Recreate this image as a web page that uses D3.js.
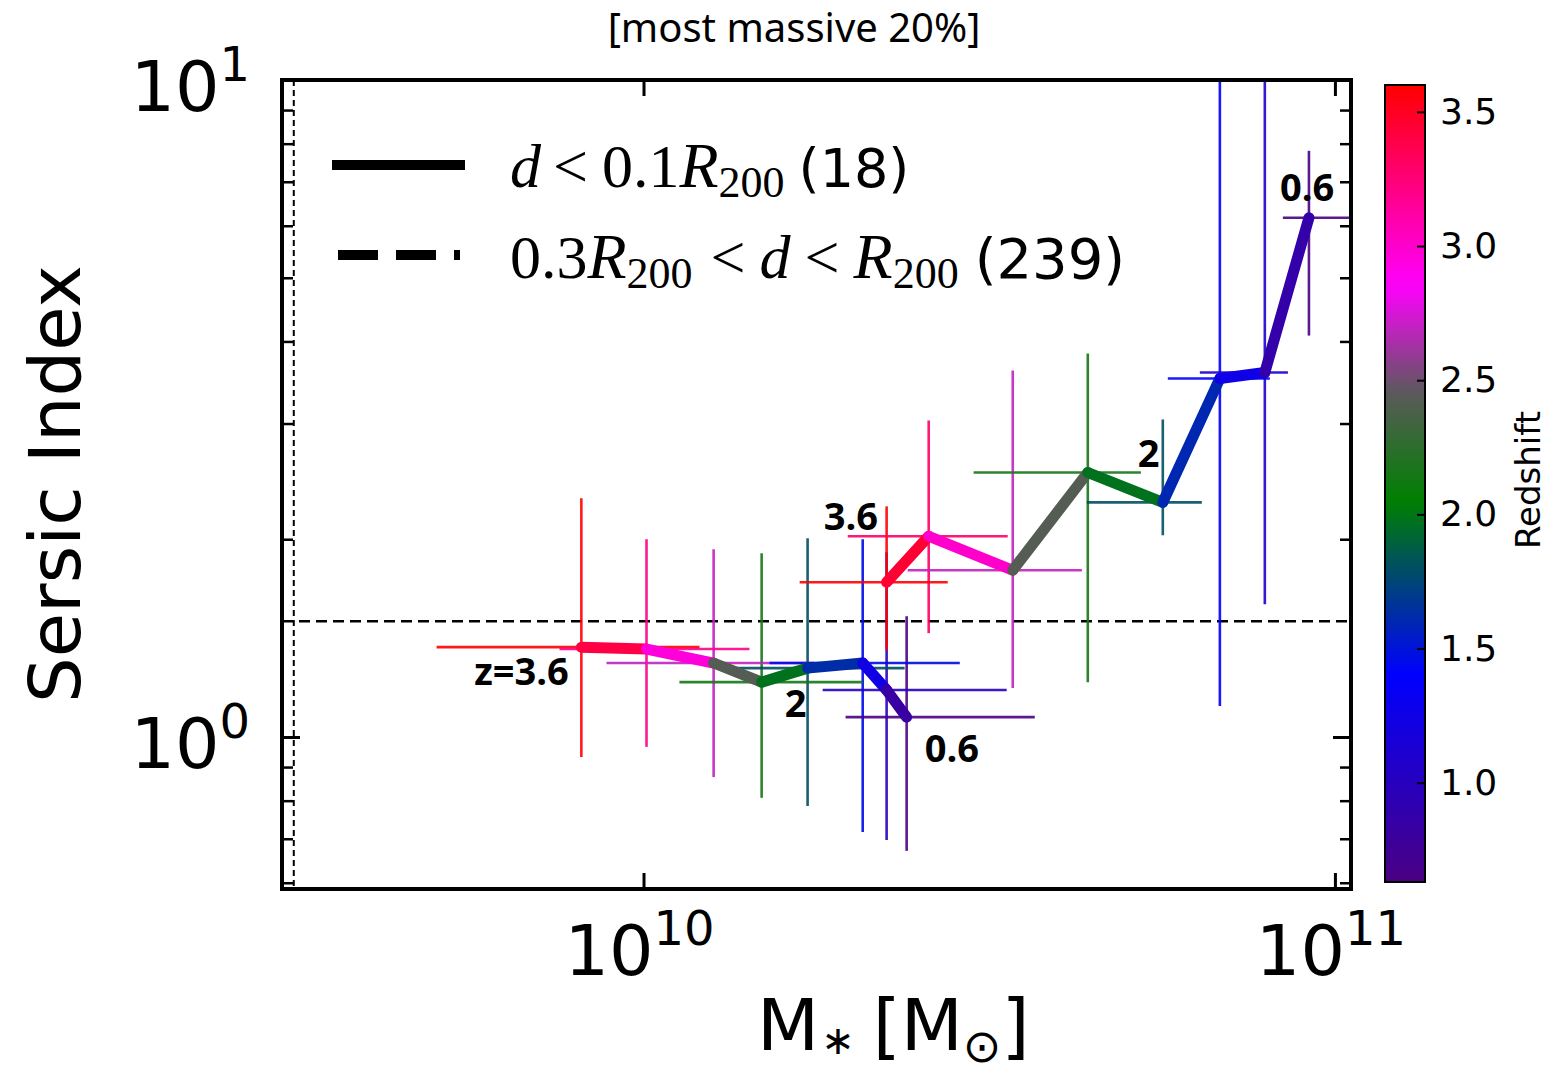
<!DOCTYPE html>
<html><head><meta charset="utf-8">
<script src="https://cdn.jsdelivr.net/npm/d3@7"></script>
<style>body{margin:0;background:#fff}</style>
</head><body>
<svg id="c" width="1547" height="1075" xmlns="http://www.w3.org/2000/svg"></svg>
<script>
// ---------------- DATA ----------------
// Track A (lower-mass track), points from z=3.6 to z=0.6
const massA   = [8.13e9, 1.010e10, 1.263e10, 1.482e10, 1.727e10, 2.075e10, 2.247e10, 2.402e10];
const nA      = [1.370, 1.361, 1.296, 1.212, 1.273, 1.296, 1.179, 1.072];
const zA      = [3.6, 3.2, 2.7, 2.15, 1.8, 1.45, 1.0, 0.65];
const massLoA = [5.02e9, 7.56e9, 8.84e9, 1.127e10, 1.310e10, 1.521e10, 1.816e10, 1.960e10];
const massHiA = [1.205e10, 1.423e10, 1.768e10, 2.075e10, 2.386e10, 2.867e10, 3.352e10, 3.680e10];
const nLoA    = [0.932, 0.966, 0.869, 0.808, 0.785, 0.717, 0.697, 0.671];
const nHiA    = [2.308, 2.000, 1.931, 1.904, 2.006, 2.000, 1.910, 1.527];

// Track B (higher-mass track)
const massB   = [2.247e10, 2.585e10, 3.420e10, 4.391e10, 5.637e10, 6.817e10, 7.918e10, 9.171e10];
const nB      = [1.720, 2.021, 1.794, 2.527, 2.276, 3.513, 3.587, 6.171];
const zB      = [3.6, 3.3, 2.7, 2.15, 1.8, 1.4, 1.1, 0.65];
const massLoB = [1.682e10, 1.974e10, 2.410e10, 3.002e10, 4.377e10, 5.732e10, 6.377e10, 8.409e10];
const massHiB = [2.754e10, 3.363e10, 4.305e10, 5.240e10, 6.420e10, 8.051e10, 8.551e10, 1.087e11];
const nLoB    = [1.356, 1.439, 1.187, 1.212, 2.028, 1.115, 1.593, 4.083];
const nHiB    = [2.244, 3.032, 3.613, 3.834, 3.043, 12.0, 12.0, 7.802];

// Reference lines (dashed)
const refN = 1.5;
const refMass = 3.12e9;

// Redshift annotations
const annText = ["z=3.6", "2", "0.6", "3.6", "2", "0.6"];
const annMass = [5.69e9, 1.600e10, 2.551e10, 1.822e10, 5.187e10, 8.326e10];
const annN    = [1.199, 1.072, 0.916, 2.064, 2.572, 6.549];

// Ticks
const xMajorTicks = [1e10, 1e11];
const xTickExp = ["10", "11"];
const yMajorTicks = [1, 10];
const yTickExp = ["0", "1"];
const yMinorTicks = [0.6, 0.7, 0.8, 0.9, 2, 3, 4, 5, 6, 7, 8, 9];
const zTicks = [1.0, 1.5, 2.0, 2.5, 3.0, 3.5];

// Colormap
const zStops  = [0.63, 1.4, 2.05, 2.45, 2.85, 3.6];
const zColors = ["#4b0082", "#0000ff", "#008000", "#5a5a5a", "#ff00ff", "#ff0000"];

// ---------------- LAYOUT ----------------
const L = 282, R = 1351, T = 80, B = 889;
const svg = d3.select("#c");
const x = d3.scaleLog().domain([3.0e9, 1.055e11]).range([L, R]);
const y = d3.scaleLog().domain([0.587, 10]).range([B, T]);
const cmap = d3.scaleLinear().domain(zStops).range(zColors).interpolate(d3.interpolateRgb).clamp(true);
const zMin = 0.63, zMax = 3.6;
const cbX = 1385, cbW = 40, cbT = 85, cbB = 882;
const zs = d3.scaleLinear().domain([zMin, zMax]).range([cbB, cbT]);

const defs = svg.append("defs");
defs.append("clipPath").attr("id", "clip").append("rect")
  .attr("x", L).attr("y", T).attr("width", R - L).attr("height", B - T);

// Title
svg.append("text").attr("x", 794).attr("y", 42).attr("text-anchor", "middle")
  .attr("font-family", "Noto Sans, DejaVu Sans, sans-serif").attr("font-size", 40)
  .text("[most massive 20%]");

const plot = svg.append("g").attr("clip-path", "url(#clip)");

// Reference dashed lines
plot.append("line").attr("x1", L).attr("x2", R).attr("y1", y(refN)).attr("y2", y(refN))
  .attr("stroke", "#000").attr("stroke-width", 2.5).attr("stroke-dasharray", "11,6");
plot.append("line").attr("x1", x(refMass)).attr("x2", x(refMass)).attr("y1", T).attr("y2", B)
  .attr("stroke", "#000").attr("stroke-width", 2).attr("stroke-dasharray", "6,4");

function track(mass, n, z, mLo, mHi, nLo, nHi) {
  return mass.map((m, i) => ({m, n: n[i], z: z[i], mLo: mLo[i], mHi: mHi[i], nLo: nLo[i], nHi: nHi[i]}));
}
const tracks = [
  track(massA, nA, zA, massLoA, massHiA, nLoA, nHiA),
  track(massB, nB, zB, massLoB, massHiB, nLoB, nHiB)
];

// Error bars
tracks.forEach(tr => {
  const g = plot.append("g");
  g.selectAll("line.v").data(tr).enter().append("line")
    .attr("x1", d => x(d.m)).attr("x2", d => x(d.m))
    .attr("y1", d => y(d.nLo)).attr("y2", d => y(d.nHi))
    .attr("stroke", d => cmap(d.z)).attr("stroke-width", 2.6).attr("stroke-opacity", 0.9);
  g.selectAll("line.h").data(tr).enter().append("line")
    .attr("x1", d => x(d.mLo)).attr("x2", d => x(d.mHi))
    .attr("y1", d => y(d.n)).attr("y2", d => y(d.n))
    .attr("stroke", d => cmap(d.z)).attr("stroke-width", 2.6).attr("stroke-opacity", 0.9);
});

// Thick colored track lines
tracks.forEach(tr => {
  const segs = d3.pairs(tr);
  plot.append("g").selectAll("line").data(segs).enter().append("line")
    .attr("x1", d => x(d[0].m)).attr("y1", d => y(d[0].n))
    .attr("x2", d => x(d[1].m)).attr("y2", d => y(d[1].n))
    .attr("stroke", d => cmap((d[0].z + d[1].z) / 2))
    .attr("stroke-width", 11).attr("stroke-linecap", "round");
});

// Annotations
svg.append("g").selectAll("text").data(annText).enter().append("text")
  .attr("x", (d, i) => x(annMass[i])).attr("y", (d, i) => y(annN[i]))
  .attr("font-family", "Open Sans, Noto Sans, sans-serif").attr("font-weight", 700)
  .attr("font-size", 38).attr("fill", "#000").text(d => d);

// Axes ticks
function clean(g) { g.select(".domain").remove(); g.selectAll("text").remove(); g.selectAll("line").attr("stroke", "#000"); }
svg.append("g").attr("transform", `translate(${L},0)`)
  .call(d3.axisLeft(y).tickValues(yMajorTicks).tickSizeInner(-18).tickSizeOuter(0)).call(clean)
  .selectAll("line").attr("stroke-width", 3);
svg.append("g").attr("transform", `translate(${L},0)`)
  .call(d3.axisLeft(y).tickValues(yMinorTicks).tickSizeInner(-11).tickSizeOuter(0)).call(clean)
  .selectAll("line").attr("stroke-width", 2.5);
svg.append("g").attr("transform", `translate(${R},0)`)
  .call(d3.axisRight(y).tickValues(yMajorTicks).tickSizeInner(-18).tickSizeOuter(0)).call(clean)
  .selectAll("line").attr("stroke-width", 3);
svg.append("g").attr("transform", `translate(${R},0)`)
  .call(d3.axisRight(y).tickValues(yMinorTicks).tickSizeInner(-11).tickSizeOuter(0)).call(clean)
  .selectAll("line").attr("stroke-width", 2.5);
svg.append("g").attr("transform", `translate(0,${B})`)
  .call(d3.axisBottom(x).tickValues(xMajorTicks).tickSizeInner(-16).tickSizeOuter(0)).call(clean)
  .selectAll("line").attr("stroke-width", 3);
svg.append("g").attr("transform", `translate(0,${T})`)
  .call(d3.axisTop(x).tickValues(xMajorTicks).tickSizeInner(-16).tickSizeOuter(0)).call(clean)
  .selectAll("line").attr("stroke-width", 3);

// Frame
svg.append("rect").attr("x", L).attr("y", T).attr("width", R - L).attr("height", B - T)
  .attr("fill", "none").attr("stroke", "#000").attr("stroke-width", 4);

// Tick labels
const tickFont = "DejaVu Sans, sans-serif";
yMajorTicks.forEach((v, i) => {
  const t = svg.append("text").attr("x", 250).attr("y", y(v) + 31).attr("text-anchor", "end")
    .attr("font-family", tickFont).attr("font-size", 70);
  t.append("tspan").text("10");
  t.append("tspan").attr("font-size", 48).attr("dy", -30).text(yTickExp[i]);
});
xMajorTicks.forEach((v, i) => {
  const t = svg.append("text").attr("x", x(v) - 4).attr("y", B + 86).attr("text-anchor", "middle")
    .attr("font-family", tickFont).attr("font-size", 70);
  t.append("tspan").text("10");
  t.append("tspan").attr("font-size", 48).attr("dy", -30).text(xTickExp[i]);
});

// Axis labels
svg.append("text").attr("transform", "translate(80,484) rotate(-90)").attr("text-anchor", "middle")
  .attr("font-family", tickFont).attr("font-size", 72).text("Sersic Index");
const xl = svg.append("text").attr("x", 757).attr("y", 1050)
  .attr("font-family", tickFont).attr("font-size", 72);
xl.append("tspan").text("M");
xl.append("tspan").attr("font-size", 40).attr("dy", 4).attr("dx", 2).text("\u2217");
xl.append("tspan").attr("dy", -4).attr("dx", 18).text("[M");
xl.append("tspan").attr("font-size", 46).attr("dy", 12).text("\u2299");
xl.append("tspan").attr("dy", -12).text("]");

// Legend
const lg = svg.append("g");
lg.append("line").attr("x1", 332).attr("x2", 465).attr("y1", 165).attr("y2", 165)
  .attr("stroke", "#000").attr("stroke-width", 10);
lg.append("line").attr("x1", 338).attr("x2", 460).attr("y1", 255).attr("y2", 255)
  .attr("stroke", "#000").attr("stroke-width", 10).attr("stroke-dasharray", "40,18");
const mathF = "Liberation Serif, DejaVu Serif, serif";
const sansF = "DejaVu Sans, sans-serif";
function mt(parent, txt, opts) {
  const s = parent.append("tspan").text(txt)
    .attr("font-family", opts.sans ? sansF : mathF)
    .attr("font-size", opts.size || 62);
  if (opts.it) s.attr("font-style", "italic");
  if (opts.dy) s.attr("dy", opts.dy);
  if (opts.dx) s.attr("dx", opts.dx);
  return s;
}
const l1 = lg.append("text").attr("x", 510).attr("y", 187).attr("fill", "#000");
mt(l1, "d", {it: true});
mt(l1, "<", {dx: 12});
mt(l1, "0.1", {dx: 14});
mt(l1, "R", {it: true, size: 64});
mt(l1, "200", {size: 44, dy: 10});
mt(l1, "(18)", {sans: true, size: 54, dy: -10, dx: 14});
const l2 = lg.append("text").attr("x", 510).attr("y", 278).attr("fill", "#000");
mt(l2, "0.3", {});
mt(l2, "R", {it: true, size: 64});
mt(l2, "200", {size: 44, dy: 10});
mt(l2, "<", {dy: -10, dx: 18});
mt(l2, "d", {it: true, dx: 14});
mt(l2, "<", {dx: 14});
mt(l2, "R", {it: true, dx: 14, size: 64});
mt(l2, "200", {size: 44, dy: 10});
mt(l2, "(239)", {sans: true, size: 56, dy: -10, dx: 16});

// Colorbar
const grad = defs.append("linearGradient").attr("id", "cbg")
  .attr("x1", 0).attr("y1", 1).attr("x2", 0).attr("y2", 0);
d3.range(0, 1.0001, 0.02).forEach(t => {
  grad.append("stop").attr("offset", t).attr("stop-color", cmap(zMin + t * (zMax - zMin)));
});
svg.append("rect").attr("x", cbX).attr("y", cbT).attr("width", cbW).attr("height", cbB - cbT)
  .attr("fill", "url(#cbg)").attr("stroke", "#000").attr("stroke-width", 2);
const cax = svg.append("g").attr("transform", `translate(${cbX + cbW},0)`)
  .call(d3.axisRight(zs).tickValues(zTicks).tickFormat(d3.format(".1f")).tickSizeInner(-8).tickSizeOuter(0).tickPadding(15));
cax.select(".domain").remove();
cax.selectAll("line").attr("stroke", "#000").attr("stroke-width", 2);
cax.selectAll("text").attr("font-family", tickFont).attr("font-size", 36).attr("fill", "#000");
svg.append("text").attr("transform", "translate(1540,480) rotate(-90)").attr("text-anchor", "middle")
  .attr("font-family", tickFont).attr("font-size", 34).text("Redshift");
</script>
</body></html>
